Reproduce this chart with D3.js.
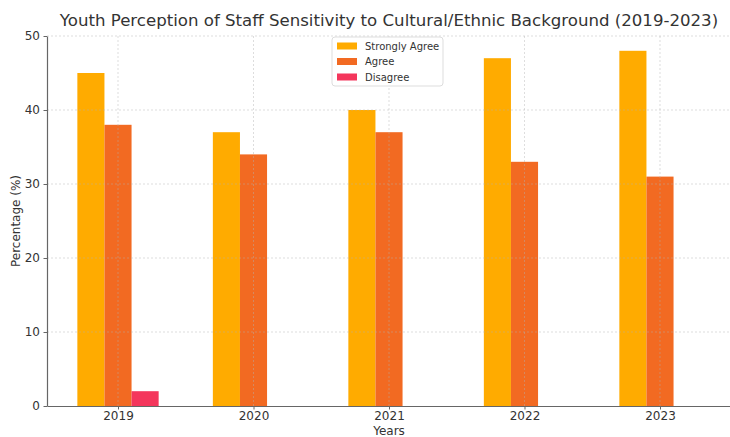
<!DOCTYPE html>
<html>
<head>
<meta charset="utf-8">
<script src="https://cdn.jsdelivr.net/npm/d3@7"></script>
<style>
  html, body { margin: 0; padding: 0; background: #fff; }
  svg { display: block; font-family: "DejaVu Sans", sans-serif; }
</style>
</head>
<body>
<svg id="chart" width="730" height="437"></svg>
<script>
// Survey results, percentage of youth per response, by year
const years = ["2019", "2020", "2021", "2022", "2023"];
const seriesNames = ["Strongly Agree", "Agree", "Disagree"];
const stronglyAgree = [45, 37, 40, 47, 48];
const agree = [38, 34, 37, 33, 31];
const disagree = [2, 0, 0, 0, 0];
const yTicks = [0, 10, 20, 30, 40, 50];
const colors = ["#FFAB00", "#F26A22", "#F4365C"];

const seriesValues = [stronglyAgree, agree, disagree];

const svg = d3.select("#chart");
const plotLeft = 47, plotRight = 731, plotTop = 36, plotBottom = 406;

// category positions in index units, with margin on both sides
const x = d3.scaleLinear().domain([-0.524, 4.524]).range([plotLeft, plotRight]);
const step = x(1) - x(0);
const barW = step * 0.2;
const offset = d3.scaleBand().domain(seriesNames).range([-1.5 * barW, 1.5 * barW]).padding(0);
const y = d3.scaleLinear().domain([0, 50]).range([plotBottom, plotTop]);

// bars
seriesNames.forEach((name, s) => {
  svg.append("g")
    .selectAll("rect")
    .data(years.map((yr, i) => ({ i, v: seriesValues[s][i] })))
    .join("rect")
    .attr("x", d => x(d.i) + offset(name))
    .attr("y", d => y(d.v))
    .attr("width", offset.bandwidth())
    .attr("height", d => y(0) - y(d.v))
    .attr("fill", colors[s]);
});

// dashed grid drawn over the bars
const grid = svg.append("g").attr("stroke", "#b0b0b0").attr("stroke-opacity", 0.55)
  .attr("stroke-dasharray", "2,2").attr("stroke-width", 0.8);
grid.selectAll("line.h").data(yTicks.filter(t => t > 0)).join("line")
  .attr("x1", plotLeft).attr("x2", plotRight)
  .attr("y1", d => y(d)).attr("y2", d => y(d));
grid.selectAll("line.v").data(years.map((_, i) => i)).join("line")
  .attr("x1", d => x(d)).attr("x2", d => x(d))
  .attr("y1", plotTop).attr("y2", plotBottom);

// axes
const xAxis = d3.axisBottom(x).tickValues(years.map((_, i) => i))
  .tickFormat(i => years[i]).tickSize(3.5).tickSizeOuter(0).tickPadding(2);
const gx = svg.append("g").attr("transform", `translate(0,${plotBottom})`).call(xAxis);
const yAxis = d3.axisLeft(y).tickValues(yTicks).tickSize(3.5).tickSizeOuter(0).tickPadding(3.5);
const gy = svg.append("g").attr("transform", `translate(${plotLeft},0)`).call(yAxis);

[gx, gy].forEach(g => {
  g.select(".domain").attr("stroke", "#666").attr("stroke-width", 1.2);
  g.selectAll(".tick line").attr("stroke", "#666");
  g.selectAll(".tick text").attr("fill", "#333").style("font-size", "12px")
    .style("font-family", "DejaVu Sans, sans-serif");
});

// titles
svg.append("text").attr("x", (plotLeft + plotRight) / 2).attr("y", 26)
  .attr("text-anchor", "middle").attr("fill", "#333").style("font-size", "16.6px")
  .text("Youth Perception of Staff Sensitivity to Cultural/Ethnic Background (2019-2023)");
svg.append("text").attr("x", (plotLeft + plotRight) / 2).attr("y", 435)
  .attr("text-anchor", "middle").attr("fill", "#333").style("font-size", "12px")
  .text("Years");
svg.append("text").attr("transform", `translate(20,${(plotTop + plotBottom) / 2}) rotate(-90)`)
  .attr("text-anchor", "middle").attr("fill", "#333").style("font-size", "12px")
  .text("Percentage (%)");

// legend
const lg = svg.append("g").attr("transform", "translate(332,37)");
lg.append("rect").attr("width", 111).attr("height", 49).attr("rx", 3)
  .attr("fill", "#fff").attr("fill-opacity", 0.85).attr("stroke", "#ddd");
seriesNames.forEach((name, s) => {
  const ry = 9 + s * 15.5;
  lg.append("rect").attr("x", 5).attr("y", ry - 3.5).attr("width", 20).attr("height", 7)
    .attr("fill", colors[s]);
  lg.append("text").attr("x", 33).attr("y", ry + 3.5).attr("fill", "#333")
    .style("font-size", "10px").text(name);
});
</script>
</body>
</html>
